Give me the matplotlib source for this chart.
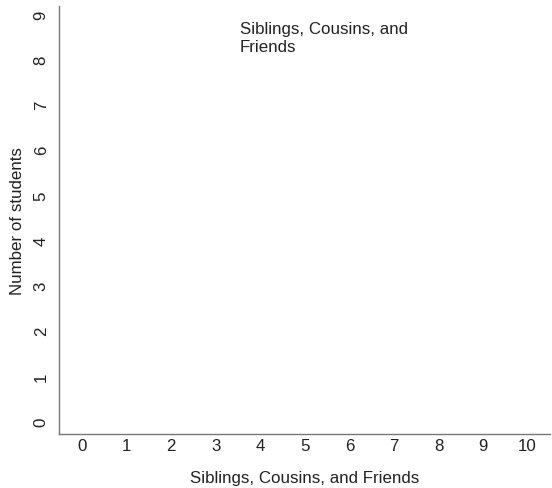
import matplotlib.pyplot as plt

plt.rcParams['font.family'] = ['Liberation Sans', 'DejaVu Sans']

# dot plot categories (no dots recorded yet)
x_ticks = list(range(0, 11))
y_ticks = list(range(0, 10))
counts = [0] * len(x_ticks)
title = "Siblings, Cousins, and\nFriends"

fs = 12.2
txt = '#222222'

fig = plt.figure(figsize=(5.52, 4.89), dpi=100)
ax = fig.add_axes([0.107, 0.110, 0.889, 0.876])

# stacked dots, one per student
for x, n in zip(x_ticks, counts):
    if n:
        ax.scatter([x] * n, range(n), s=60, color='#3366cc', zorder=3)

ax.set_xlim(-0.52, 10.5)
ax.set_ylim(-0.29, 9.18)
ax.set_xticks(x_ticks)
ax.set_yticks(y_ticks)
ax.set_xticklabels([str(v) for v in x_ticks], fontsize=fs, color=txt)
ax.set_yticklabels([str(v) for v in y_ticks], fontsize=fs, color=txt,
                   rotation=90, va='center')
ax.tick_params(axis='x', length=0, pad=3)
ax.tick_params(axis='y', length=0, pad=7.5)

for side in ['top', 'right']:
    ax.spines[side].set_visible(False)
for side in ['left', 'bottom']:
    ax.spines[side].set_color('#777777')
    ax.spines[side].set_linewidth(1.0)

ax.set_xlabel("Siblings, Cousins, and Friends", fontsize=fs, color=txt, va='center')
ax.set_ylabel("Number of students", fontsize=fs, color=txt, va='center')
ax.xaxis.set_label_coords(0.5, -0.1005)
ax.yaxis.set_label_coords(-0.0855, 0.5)

ax.text(3.54, 8.84, title, fontsize=fs, color=txt, va='top', ha='left',
        linespacing=1.25)

fig.savefig("out.png", dpi=100)
